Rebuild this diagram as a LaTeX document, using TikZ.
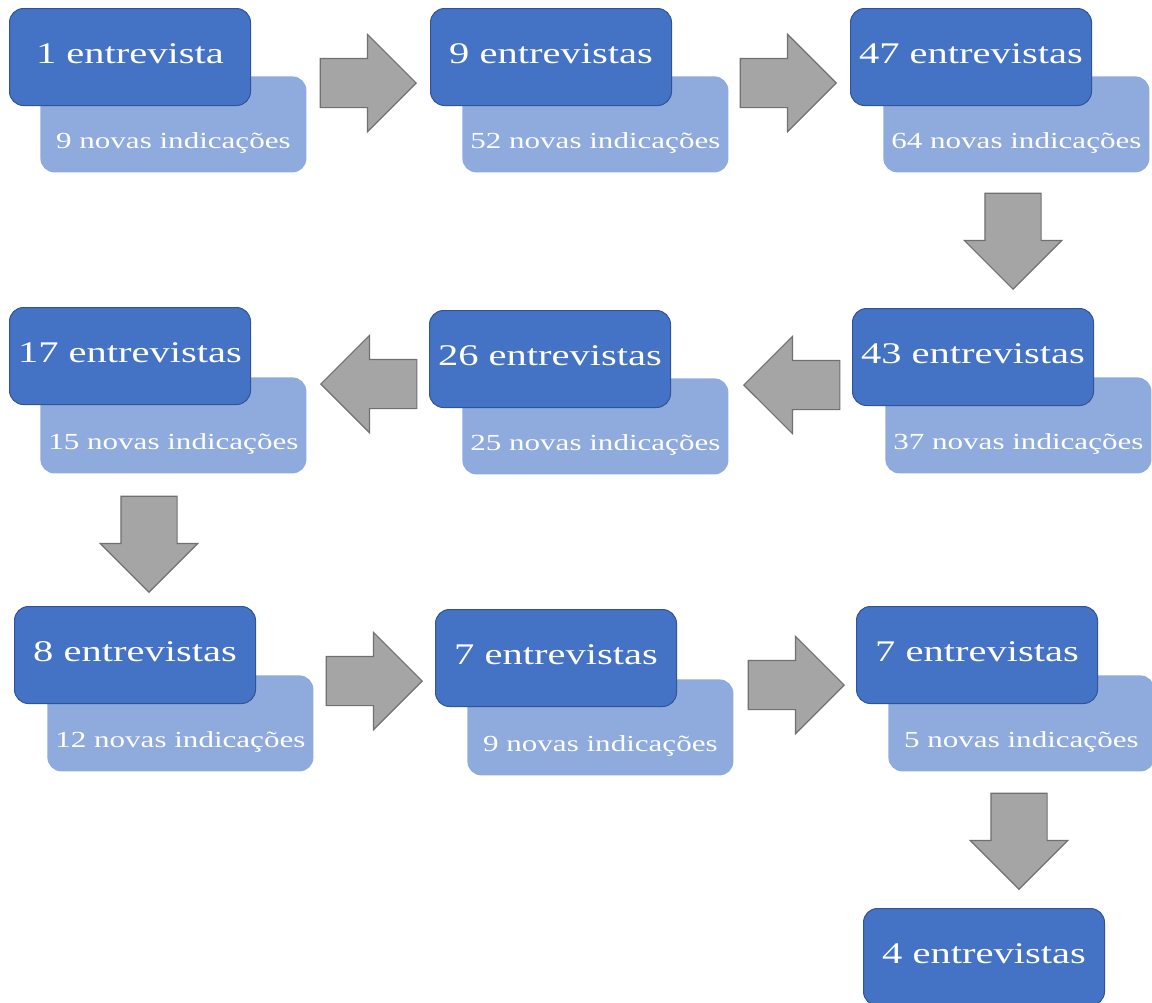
\documentclass[tikz,border=0pt]{standalone}
\usepackage{fontspec}
\setmainfont{Liberation Serif}[FakeStretch=1.35]
\usepackage{tikz}
\usetikzlibrary{shapes.arrows}
\definecolor{boxblue}{HTML}{4472C4}
\definecolor{boxedge}{HTML}{2F5597}
\definecolor{noteblue}{HTML}{8FAADC}
\definecolor{arrowgray}{HTML}{A5A5A5}
\definecolor{arrowedge}{HTML}{707070}

\begin{document}
\begin{tikzpicture}[x=0.5pt, y=-0.5pt]
	\tikzstyle{count box}=[rectangle, rounded corners=7pt, fill=boxblue, draw=boxedge, line width=0.5pt, anchor=north west, minimum width=120.5pt, minimum height=48.5pt, inner sep=0pt, text height=27.5pt, text depth=21pt, text=white, font=\fontsize{15}{18}\selectfont]
	\tikzstyle{note box}=[rectangle, rounded corners=7pt, fill=noteblue, anchor=north west, minimum width=133pt, minimum height=48pt, inner sep=0pt, text height=36pt, text depth=12pt, text=white, font=\fontsize{11.5}{14}\selectfont]
	\tikzstyle{flow arrow}=[single arrow, fill=arrowgray, draw=arrowedge, line width=0.6pt, minimum height=48pt, minimum width=48.5pt, single arrow head extend=12pt, inner sep=12pt, anchor=tip]
	\tikzstyle{flow right}=[flow arrow]
	\tikzstyle{flow left}=[flow arrow, shape border rotate=180]
	\tikzstyle{flow down}=[flow arrow, shape border rotate=270, inner sep=13.75pt, single arrow head extend=10.25pt]

	\useasboundingbox (0,0) rectangle (1152,1002);

	% Draw first row
	\node[note box] (ind1) at (40,76) {9 novas indicações};
	\node[count box] (ent1) at (9,8) {1 entrevista};
	\node[note box] (ind2) at (462,76) {52 novas indicações};
	\node[count box] (ent2) at (430,8) {9 entrevistas};
	\node[note box] (ind3) at (883,76) {64 novas indicações};
	\node[count box] (ent3) at (850,8) {47 entrevistas};

	% Draw second row (right to left)
	\node[note box] (ind4) at (885,377) {37 novas indicações};
	\node[count box] (ent4) at (852,308) {43 entrevistas};
	\node[note box] (ind5) at (462,378) {25 novas indicações};
	\node[count box] (ent5) at (429,310) {26 entrevistas};
	\node[note box] (ind6) at (40,377) {15 novas indicações};
	\node[count box] (ent6) at (9,307) {17 entrevistas};

	% Draw third row
	\node[note box] (ind7) at (47,675) {12 novas indicações};
	\node[count box] (ent7) at (14,606) {8 entrevistas};
	\node[note box] (ind8) at (467,679) {9 novas indicações};
	\node[count box] (ent8) at (435,609) {7 entrevistas};
	\node[note box] (ind9) at (888,675) {5 novas indicações};
	\node[count box] (ent9) at (856,606) {7 entrevistas};

	% Draw the last one
	\node[count box] (ent10) at (863,908) {4 entrevistas};

	% Draw arrows (placed by their tips)
	\node[flow right] (seta1) at (417,83) {};
	\node[flow right] (seta2) at (837,83) {};
	\node[flow down] (seta3) at (1013,290) {};
	\node[flow left] (seta4) at (743,385) {};
	\node[flow left] (seta5) at (320,384) {};
	\node[flow down] (seta6) at (149,593) {};
	\node[flow right] (seta7) at (423,681) {};
	\node[flow right] (seta8) at (845,685) {};
	\node[flow down] (seta9) at (1019,890) {};
\end{tikzpicture}
\end{document}
